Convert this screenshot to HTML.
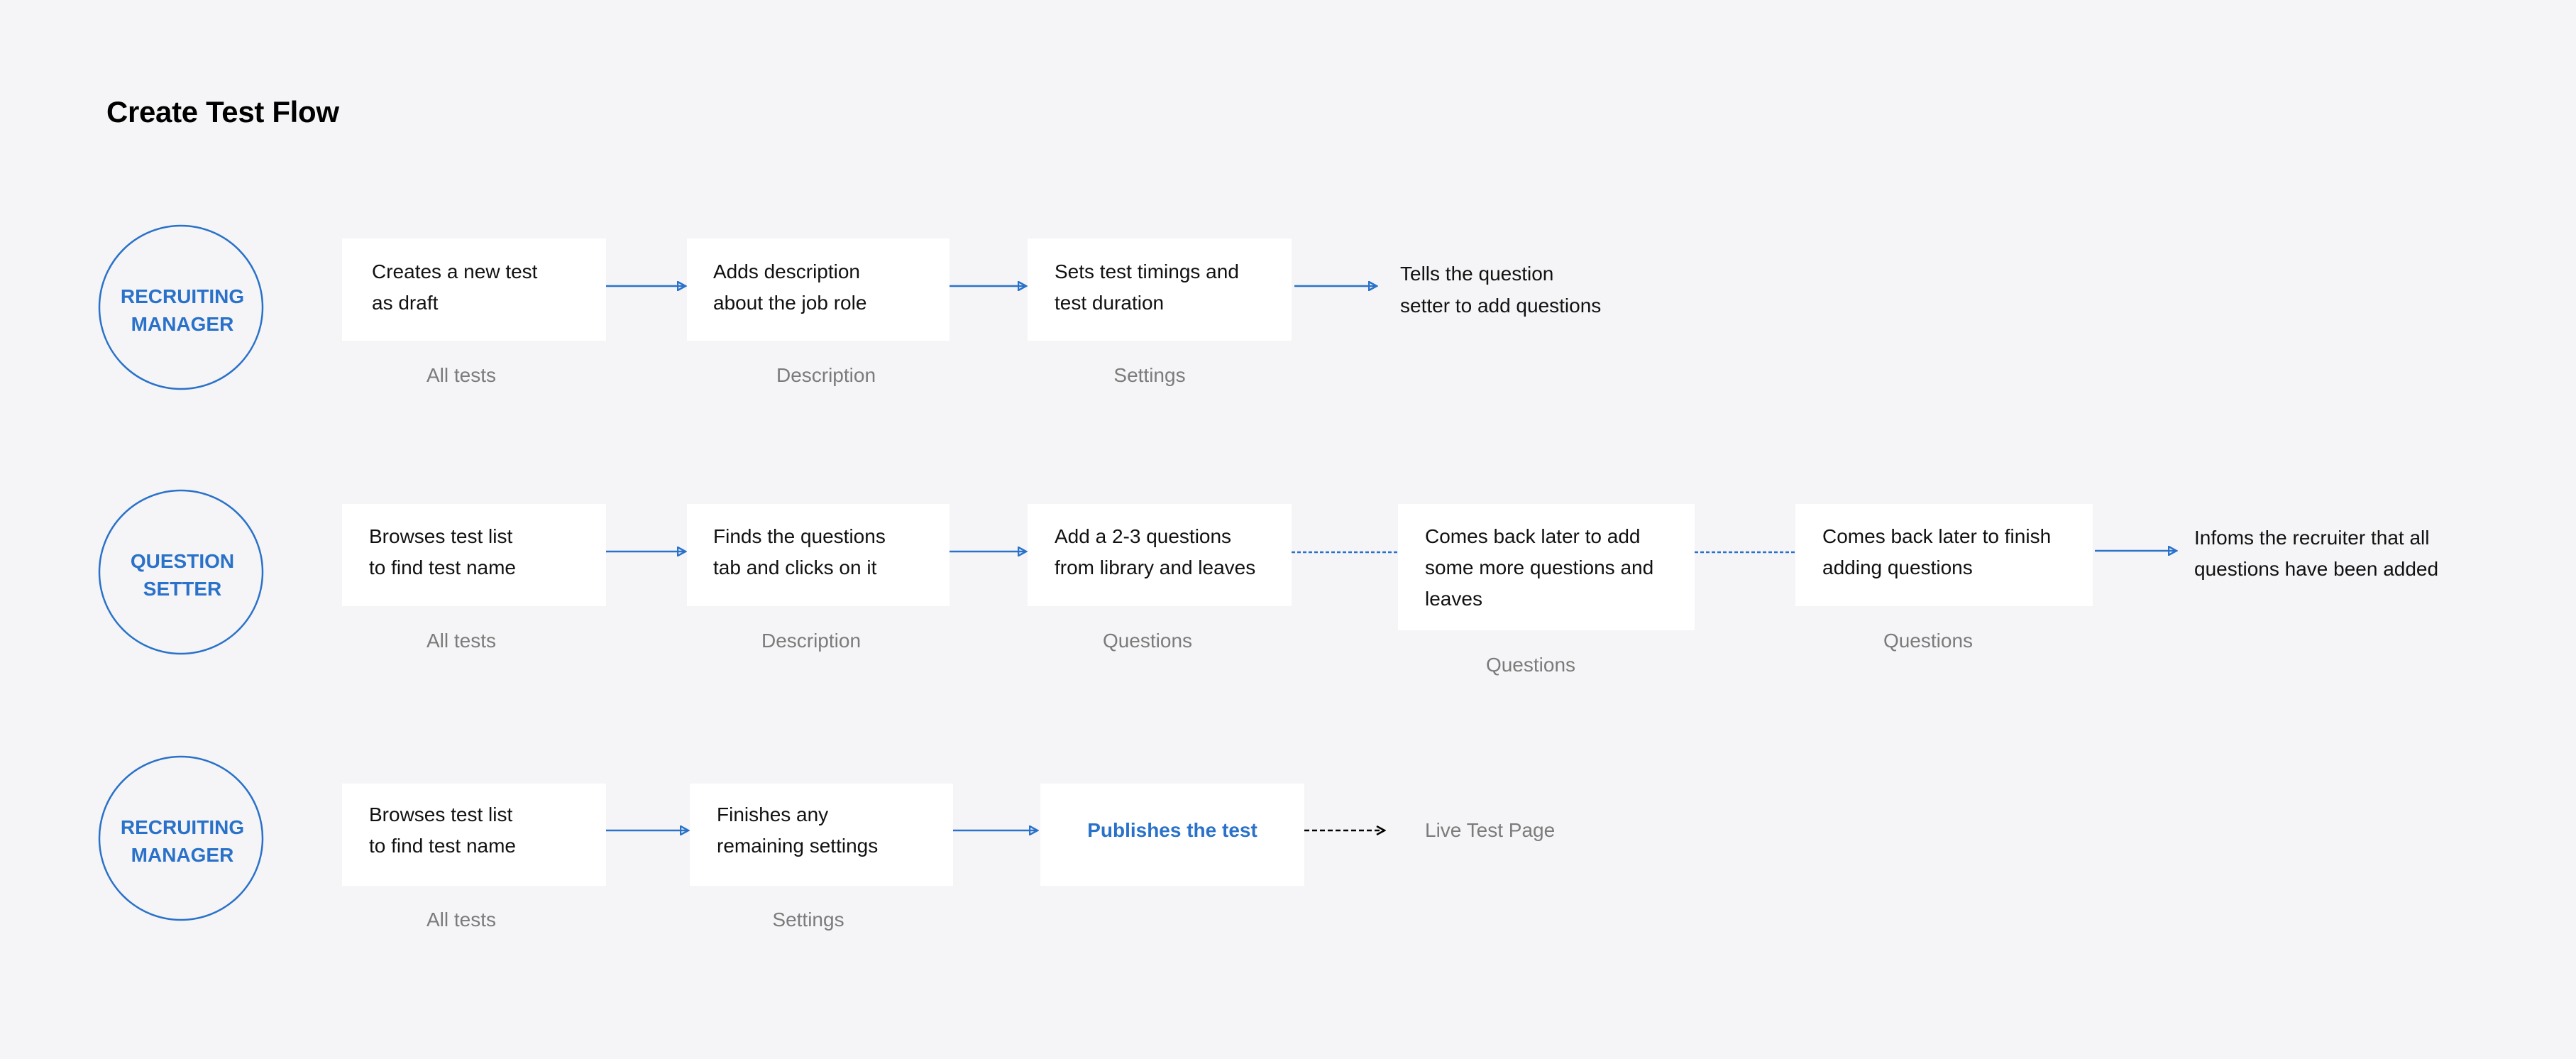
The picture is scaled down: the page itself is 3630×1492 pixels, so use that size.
<!DOCTYPE html>
<html><head><meta charset="utf-8"><style>
html,body{margin:0;padding:0;background:#f5f5f7;}
svg{display:block;}
text{font-family:"Liberation Sans",sans-serif;}
.t{font-size:28px;fill:#111;}
.l{font-size:28px;fill:#7b7b7b;}
.c{font-size:28px;fill:#2a72c9;font-weight:bold;}
</style></head><body>
<svg width="3630" height="1492" viewBox="0 0 3630 1492" xmlns="http://www.w3.org/2000/svg">
<defs>
<marker id="a" markerWidth="14" markerHeight="14" refX="12" refY="7" orient="auto" markerUnits="userSpaceOnUse">
<path d="M1,1 L12,7 L1,13 Z" fill="none" stroke="#2a72c9" stroke-width="2.5"/></marker>
<marker id="k" markerWidth="14" markerHeight="14" refX="12" refY="7" orient="auto" markerUnits="userSpaceOnUse">
<path d="M1,1 L12,7 L1,13" fill="none" stroke="#000" stroke-width="2.5"/></marker>
</defs>
<rect width="3630" height="1492" fill="#f5f5f7"/>
<text x="150" y="172" font-size="42" font-weight="bold" fill="#000" textLength="328">Create Test Flow</text>

<!-- circles -->
<g fill="none" stroke="#2a72c9" stroke-width="2.5">
<circle cx="255" cy="433" r="115"/>
<circle cx="255" cy="806" r="115"/>
<circle cx="255" cy="1181" r="115"/>
</g>
<g class="c" text-anchor="middle">
<text x="257" y="427" class="c">RECRUITING</text><text x="257" y="466" class="c">MANAGER</text>
<text x="257" y="800" class="c">QUESTION</text><text x="257" y="839" class="c">SETTER</text>
<text x="257" y="1175" class="c">RECRUITING</text><text x="257" y="1214" class="c">MANAGER</text>
</g>

<!-- boxes -->
<g fill="#fff">
<rect x="482" y="336" width="372" height="144"/>
<rect x="968" y="336" width="370" height="144"/>
<rect x="1448" y="336" width="372" height="144"/>
<rect x="482" y="710" width="372" height="144"/>
<rect x="968" y="710" width="370" height="144"/>
<rect x="1448" y="710" width="372" height="144"/>
<rect x="1970" y="710" width="418" height="178"/>
<rect x="2530" y="710" width="419" height="144"/>
<rect x="482" y="1104" width="372" height="144"/>
<rect x="972" y="1104" width="371" height="144"/>
<rect x="1466" y="1104" width="372" height="144"/>
</g>

<!-- connectors -->
<g stroke="#2a72c9" stroke-width="2.5" fill="none">
<line x1="854" y1="403" x2="966" y2="403" marker-end="url(#a)"/>
<line x1="1338" y1="403" x2="1446" y2="403" marker-end="url(#a)"/>
<line x1="1824" y1="403" x2="1940" y2="403" marker-end="url(#a)"/>
<line x1="854" y1="777" x2="966" y2="777" marker-end="url(#a)"/>
<line x1="1338" y1="777" x2="1446" y2="777" marker-end="url(#a)"/>
<line x1="1820" y1="778" x2="1970" y2="778" stroke-dasharray="5,3"/>
<line x1="2388" y1="778" x2="2530" y2="778" stroke-dasharray="5,3"/>
<line x1="2952" y1="776" x2="3067" y2="776" marker-end="url(#a)"/>
<line x1="854" y1="1170" x2="970" y2="1170" marker-end="url(#a)"/>
<line x1="1343" y1="1170" x2="1462" y2="1170" marker-end="url(#a)"/>
</g>
<line x1="1838" y1="1170" x2="1951" y2="1170" stroke="#000" stroke-width="2.5" stroke-dasharray="7,4" marker-end="url(#k)"/>

<!-- box text -->
<g class="t">
<text x="524" y="392" class="t">Creates a new test</text><text x="524" y="436" class="t">as draft</text>
<text x="1005" y="392" class="t">Adds description</text><text x="1005" y="436" class="t">about the job role</text>
<text x="1486" y="392" class="t">Sets test timings and</text><text x="1486" y="436" class="t">test duration</text>
<text x="1973" y="395" class="t">Tells the question</text><text x="1973" y="440" class="t">setter to add questions</text>

<text x="520" y="765" class="t">Browses test list</text><text x="520" y="809" class="t">to find test name</text>
<text x="1005" y="765" class="t">Finds the questions</text><text x="1005" y="809" class="t">tab and clicks on it</text>
<text x="1486" y="765" class="t">Add a 2-3 questions</text><text x="1486" y="809" class="t">from library and leaves</text>
<text x="2008" y="765" class="t">Comes back later to add</text><text x="2008" y="809" class="t">some more questions and</text><text x="2008" y="853" class="t">leaves</text>
<text x="2568" y="765" class="t">Comes back later to finish</text><text x="2568" y="809" class="t">adding questions</text>
<text x="3092" y="767" class="t">Infoms the recruiter that all</text><text x="3092" y="811" class="t">questions have been added</text>

<text x="520" y="1157" class="t">Browses test list</text><text x="520" y="1201" class="t">to find test name</text>
<text x="1010" y="1157" class="t">Finishes any</text><text x="1010" y="1201" class="t">remaining settings</text>
</g>
<text x="1652" y="1179" text-anchor="middle" class="c">Publishes the test</text>
<text x="2008" y="1179" class="l">Live Test Page</text>

<!-- labels -->
<g text-anchor="middle">
<text x="650" y="538" class="l">All tests</text>
<text x="1164" y="538" class="l">Description</text>
<text x="1620" y="538" class="l">Settings</text>
<text x="650" y="912" class="l">All tests</text>
<text x="1143" y="912" class="l">Description</text>
<text x="1617" y="912" class="l">Questions</text>
<text x="2157" y="946" class="l">Questions</text>
<text x="2717" y="912" class="l">Questions</text>
<text x="650" y="1305" class="l">All tests</text>
<text x="1139" y="1305" class="l">Settings</text>
</g>
</svg>
</body></html>
